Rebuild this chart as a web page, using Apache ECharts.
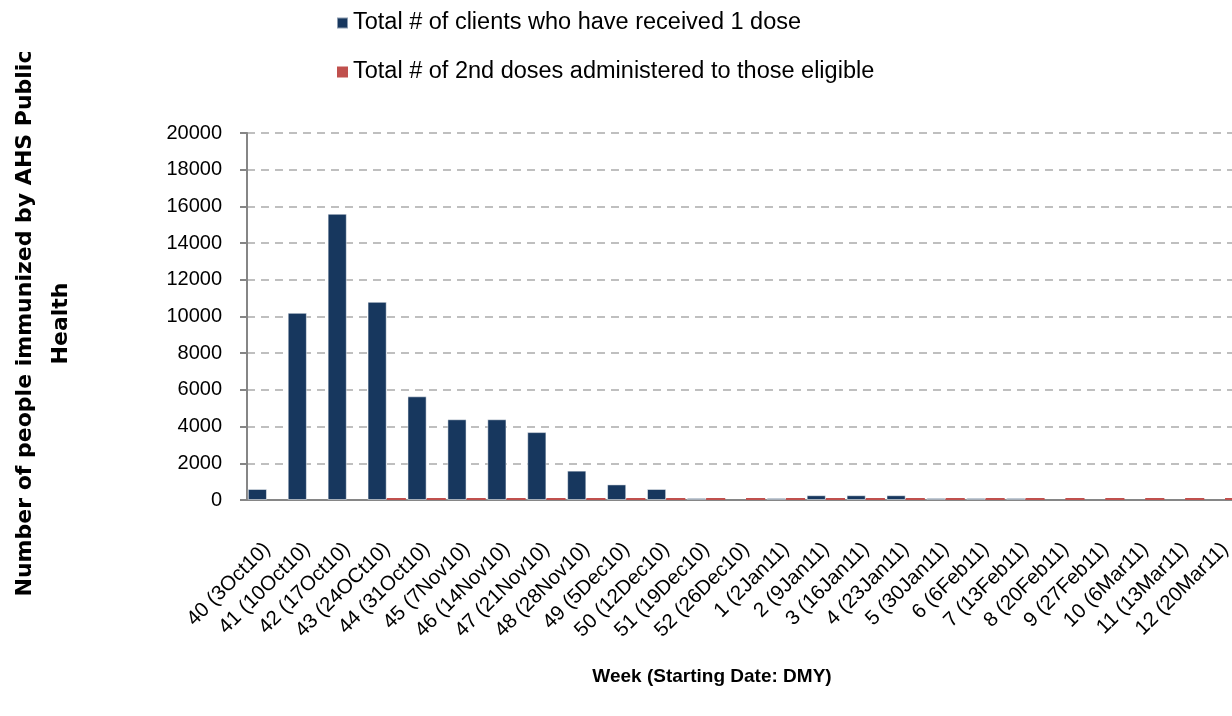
<!DOCTYPE html>
<html>
<head>
<meta charset="utf-8">
<script src="https://cdn.jsdelivr.net/npm/echarts@6/dist/echarts.min.js"></script>
<style>
  html, body { margin: 0; padding: 0; background: #fff; }
  #chart { width: 1232px; height: 716px; }
</style>
</head>
<body>
<div id="chart"></div>
<script>
// week labels (Starting Date: DMY)
var weeks = ['40 (3Oct10)', '41 (10Oct10)', '42 (17Oct10)', '43 (24OCt10)', '44 (31Oct10)', '45 (7Nov10)',
    '46 (14Nov10)', '47 (21Nov10)', '48 (28Nov10)', '49 (5Dec10)', '50 (12Dec10)', '51 (19Dec10)',
    '52 (26Dec10)', '1 (2Jan11)', '2 (9Jan11)', '3 (16Jan11)', '4 (23Jan11)', '5 (30Jan11)',
    '6 (6Feb11)', '7 (13Feb11)', '8 (20Feb11)', '9 (27Feb11)', '10 (6Mar11)', '11 (13Mar11)', '12 (20Mar11)'];

var firstDose = [600, 10200, 15600, 10800, 5650, 4400, 4400, 3700, 1600, 850, 600, 110,
    null, 110, 260, 260, 260, 110, 110, 110, null, null, null, null, null];

var secondDose = [null, null, null, 110, 110, 110, 110, 110, 110, 110, 110, 110,
    110, 110, 110, 110, 110, 110, 110, 110, 110, 110, 110, 110, 110];

var yTicks = [0, 20000, 2000]; // min, max, step

var seriesNames = ['Total # of clients who have received 1 dose', 'Total # of 2nd doses administered to those eligible'];

var font = "'Liberation Sans', sans-serif";
var myChart = echarts.init(document.getElementById('chart'));

var option = {
    animation: false,
    color: ['#17375E', '#C0504D'],
    legend: {
        orient: 'vertical',
        left: 331,
        top: 6,
        itemWidth: 11,
        itemHeight: 11,
        itemGap: 25,
        icon: 'rect',
        textStyle: { fontFamily: font, fontSize: 23.5, color: '#000' },
        data: seriesNames
    },
    grid: { left: 247, right: -13, top: 133, bottom: 216, containLabel: false, outerBoundsMode: 'none' },
    xAxis: {
        type: 'category',
        data: weeks,
        name: 'Week (Starting Date: DMY)',
        nameLocation: 'middle',
        nameGap: 167,
        nameTextStyle: { fontFamily: font, fontSize: 19, fontWeight: 'bold', color: '#000', padding: [0, 68, 0, 0] },
        axisLine: { lineStyle: { color: '#868686', width: 2 } },
        axisTick: { length: 6, lineStyle: { color: '#868686', width: 2 } },
        axisLabel: { rotate: 45, margin: 46, fontFamily: font, fontSize: 20.5, color: '#000', interval: 0 }
    },
    yAxis: {
        type: 'value',
        min: yTicks[0],
        max: yTicks[1],
        interval: yTicks[2],
        name: 'Number of people immunized by AHS Public\nHealth',
        nameLocation: 'middle',
        nameRotate: 90,
        nameGap: 168,
        nameTextStyle: { fontFamily: "'DejaVu Sans', sans-serif", fontSize: 22, fontWeight: 'bold', color: '#000', lineHeight: 36, padding: [0, 14, 0, 0] },
        axisLine: { show: true, lineStyle: { color: '#868686', width: 2 } },
        axisTick: { show: true, length: 7, lineStyle: { color: '#868686', width: 2 } },
        axisLabel: { margin: 25, fontFamily: font, fontSize: 20, color: '#000', formatter: function (v) { return String(v); } },
        splitLine: { lineStyle: { color: '#BFBFBF', type: [8, 6], width: 2 } }
    },
    series: [
        {
            name: seriesNames[0],
            type: 'bar',
            barGap: '0%',
            barCategoryGap: '4%',
            itemStyle: { borderColor: 'rgba(255,255,255,0.5)', borderWidth: 1 },
            data: firstDose
        },
        {
            name: seriesNames[1],
            type: 'bar',
            barGap: '0%',
            barCategoryGap: '4%',
            data: secondDose
        }
    ]
};

myChart.setOption(option);
</script>
</body>
</html>
